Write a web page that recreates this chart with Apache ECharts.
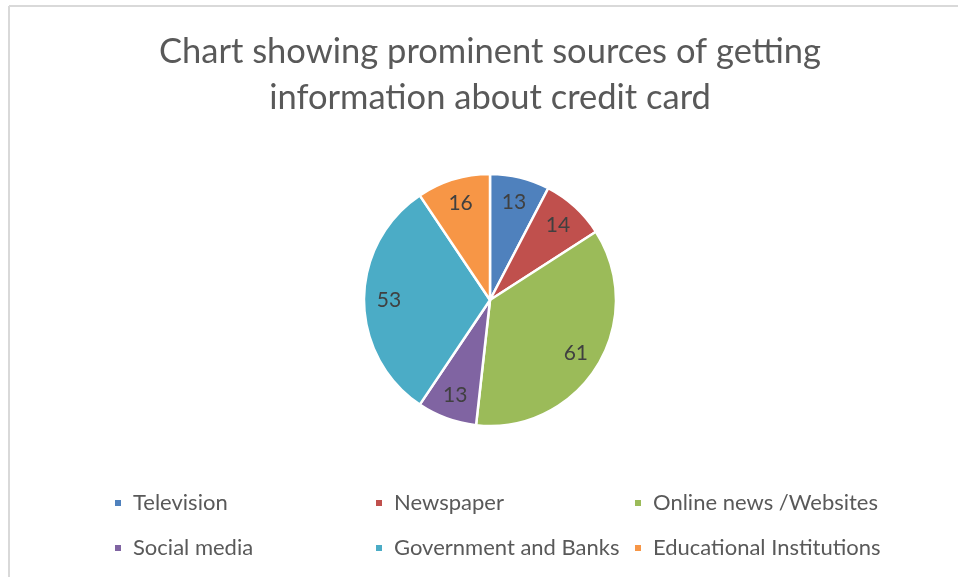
<!DOCTYPE html>
<html>
<head>
<meta charset="utf-8">
<title>Credit card information sources</title>
<script src="https://cdn.jsdelivr.net/npm/echarts@6/dist/echarts.min.js"></script>
<style>
  html, body { margin: 0; padding: 0; background: #ffffff; }
  #chart { width: 958px; height: 577px; }
</style>
</head>
<body>
<div id="chart"></div>
<script>
// Sources and respondent counts
var categories = ['Television', 'Newspaper', 'Online news /Websites', 'Social media', 'Government and Banks', 'Educational Institutions'];
var counts = [13, 14, 61, 13, 53, 16];
var colors = ['#4F81BD', '#C0504D', '#9BBB59', '#8064A2', '#4BACC6', '#F79646'];
var titleLines = ['Chart showing prominent sources of getting', 'information about credit card'];

var FONT = 'Lato, "Open Sans", sans-serif';

var pieData = categories.map(function (name, i) {
  return { name: name, value: counts[i], itemStyle: { color: colors[i] } };
});

// Legend laid out as three columns of two items each
var legendColumns = [
  { left: 108, items: [0, 3] },
  { left: 369, items: [1, 4] },
  { left: 628, items: [2, 5] }
];

var chart = echarts.init(document.getElementById('chart'), null, { renderer: 'canvas' });

chart.setOption({
  animation: false,
  color: colors,
  legend: legendColumns.map(function (col) {
    return {
      orient: 'vertical',
      left: col.left,
      top: 487,
      itemGap: 23,
      itemWidth: 8,
      itemHeight: 8,
      icon: 'rect',
      selectedMode: false,
      data: col.items.map(function (i) { return categories[i]; }),
      textStyle: { fontFamily: FONT, fontSize: 22, color: '#595959', padding: [0, 0, 0, 6] }
    };
  }),
  graphic: [
    // Chart frame (top and left edges)
    { type: 'line', shape: { x1: 9, y1: 6, x2: 958, y2: 6 }, style: { stroke: '#d9d9d9', lineWidth: 2 } },
    { type: 'line', shape: { x1: 9, y1: 6, x2: 9, y2: 577 }, style: { stroke: '#d9d9d9', lineWidth: 2 } },
    // Two-line title centred over the pie
    {
      type: 'text',
      x: 490,
      y: 29,
      style: {
        text: titleLines.join('\n'),
        textAlign: 'center',
        textVerticalAlign: 'top',
        font: '34.5px ' + FONT,
        lineHeight: 46,
        fill: '#595959'
      }
    }
  ],
  series: [
    {
      type: 'pie',
      center: [490, 300],
      radius: [0, 126],
      startAngle: 90,
      clockwise: true,
      label: { show: false },
      labelLine: { show: false },
      itemStyle: { borderColor: '#ffffff', borderWidth: 2.5 },
      emphasis: { disabled: true },
      data: pieData
    },
    {
      // Transparent ring that carries the value labels at ~0.78 of the radius
      type: 'pie',
      center: [490, 300],
      radius: [70, 126],
      startAngle: 90,
      clockwise: true,
      silent: true,
      itemStyle: { color: 'rgba(0,0,0,0)', borderWidth: 0 },
      label: {
        show: true,
        position: 'inside',
        formatter: '{c}',
        fontFamily: FONT,
        fontSize: 21,
        color: '#404040'
      },
      labelLine: { show: false },
      emphasis: { disabled: true },
      data: categories.map(function (name, i) {
        return { name: name, value: counts[i], itemStyle: { color: 'rgba(0,0,0,0)' } };
      })
    }
  ]
});
</script>
</body>
</html>
